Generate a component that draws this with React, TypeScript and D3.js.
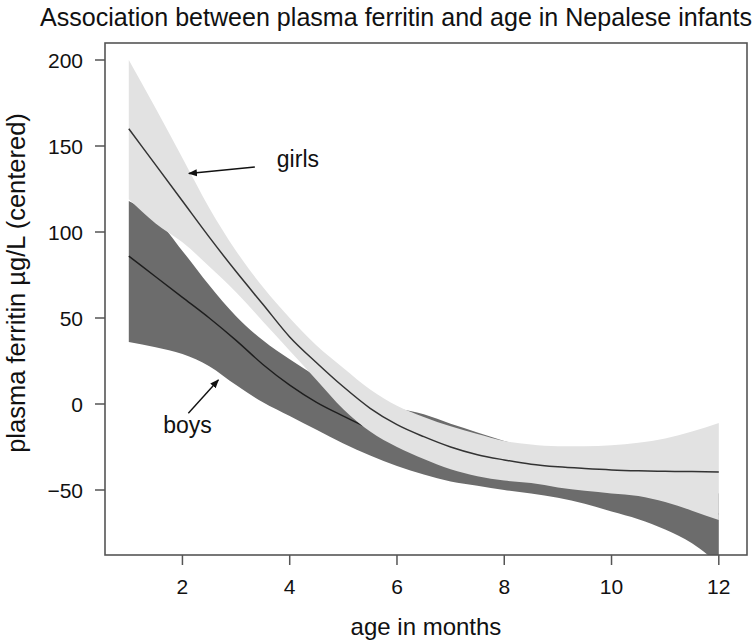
import React from "react";
import * as d3 from "d3";

// ---- data ----
const months = [1, 1.5, 2, 2.5, 3, 3.5, 4, 4.5, 5, 5.5, 6, 6.5, 7, 7.5, 8, 8.5, 9, 9.5, 10, 10.5, 11, 11.5, 12];

const girlsFit = [160, 139, 118, 97, 77, 58, 39, 24, 10, -2.5, -12, -19, -25, -29.5, -32.5, -35, -36.5, -37.5, -38.3, -38.8, -39.1, -39.3, -39.5];
const girlsUpper = [200, 172, 143, 114, 89, 68, 50, 34, 21, 8.5, -1, -7.5, -13, -17.5, -21.5, -23.5, -24.5, -24.5, -24, -22.5, -20, -16, -11];
const girlsLower = [119, 105, 94, 80, 65, 48, 31, 14, -3, -16, -25, -32, -38, -42, -44.5, -46, -48.5, -50.5, -52, -53.5, -57, -62, -67.5];

const boysFit = [86, 74, 62, 50, 37, 23, 11, 1, -7, -14.5, -21, -26, -30, -33.5, -36.5, -39.5, -42, -44.5, -47, -50.5, -54.5, -59, -64];
const boysUpper = [118, 108, 89, 69, 51, 37, 26, 16, 7, 1, -2.5, -6, -11.5, -16.5, -21.5, -26, -30, -34, -37, -40, -43, -47, -52];
const boysLower = [36, 33, 29, 22, 11, 1, -7, -15, -23, -30, -36, -41, -45, -47.5, -50, -52, -54.5, -58, -62.5, -67, -73, -81, -93];

const xTicks = [2, 4, 6, 8, 10, 12];
const yTicks = [-50, 0, 50, 100, 150, 200];

// annotations (data units)
const girlsLabel = { text: "girls", m: 3.76, v: 138, fromM: 3.35, fromV: 137.8, toM: 2.12, toV: 134 };
const boysLabel = { text: "boys", m: 1.64, v: -17, fromM: 2.11, fromV: -5.4, toM: 2.67, toV: 14 };

const W = 754;
const H = 641;
const box = { left: 105, right: 747, top: 43, bottom: 555 };

export default function App() {
  const x = d3.scaleLinear().domain([1, 12]).range([128.8, 718.8]);
  const y = d3.scaleLinear().domain([-50, 200]).range([490, 60]);

  const band = (lo: number[], hi: number[]) =>
    d3
      .area<number>()
      .x((d) => x(d))
      .y0((_, i) => y(lo[i]))
      .y1((_, i) => y(hi[i]))
      .curve(d3.curveMonotoneX)(months) || "";
  const line = (vals: number[]) =>
    d3
      .line<number>()
      .x((d) => x(d))
      .y((_, i) => y(vals[i]))
      .curve(d3.curveMonotoneX)(months) || "";

  const font = "'Liberation Sans', Arial, Helvetica, sans-serif";
  const axisColor = "#555";

  return (
    <svg
      width={W}
      height={H}
      style={{ position: "absolute", left: 0, top: 0, background: "#fff" }}
      fontFamily={font}
    >
      <defs>
        <clipPath id="plotClip">
          <rect x={box.left} y={box.top} width={box.right - box.left} height={box.bottom - box.top} />
        </clipPath>
        <marker id="arrow" viewBox="0 0 10 10" refX="9" refY="5" markerWidth="9" markerHeight="9" markerUnits="userSpaceOnUse" orient="auto">
          <path d="M0,1 L10,5 L0,9 z" fill="#111" />
        </marker>
      </defs>

      {/* title */}
      <text x={396} y={26} textAnchor="middle" fontSize={25} fill="#111" textLength={712} lengthAdjust="spacingAndGlyphs">
        Association between plasma ferritin and age in Nepalese infants
      </text>

      <g clipPath="url(#plotClip)">
        <path d={band(boysLower, boysUpper)} fill="#6c6c6c" />
        <path d={line(boysFit)} fill="none" stroke="#1e1e1e" strokeWidth={1.4} />
        <path d={band(girlsLower, girlsUpper)} fill="#e2e2e2" />
        <path d={line(girlsFit)} fill="none" stroke="#333" strokeWidth={1.5} />
      </g>

      {/* box */}
      <rect
        x={box.left}
        y={box.top}
        width={box.right - box.left}
        height={box.bottom - box.top}
        fill="none"
        stroke={axisColor}
        strokeWidth={1.6}
      />

      {/* x axis */}
      {xTicks.map((t) => (
        <g key={"x" + t}>
          <line x1={x(t)} x2={x(t)} y1={box.bottom} y2={box.bottom + 10} stroke={axisColor} strokeWidth={1.5} />
          <text x={x(t)} y={594} textAnchor="middle" fontSize={21} fill="#111">
            {t}
          </text>
        </g>
      ))}
      <text x={(box.left + box.right) / 2} y={635} textAnchor="middle" fontSize={24} fill="#111">
        age in months
      </text>

      {/* y axis */}
      {yTicks.map((t) => (
        <g key={"y" + t}>
          <line x1={box.left - 10} x2={box.left} y1={y(t)} y2={y(t)} stroke={axisColor} strokeWidth={1.5} />
          <text x={83} y={y(t)} dy="0.36em" textAnchor="end" fontSize={21} fill="#111">
            {t === -50 ? "\u221250" : t}
          </text>
        </g>
      ))}
      <text
        transform={`translate(25, ${(box.top + box.bottom) / 2 - 16}) rotate(-90)`}
        textAnchor="middle"
        fontSize={25.5}
        fill="#111"
      >
        plasma ferritin µg/L (centered)
      </text>

      {/* annotations */}
      {[girlsLabel, boysLabel].map((a) => (
        <g key={a.text}>
          <line
            x1={x(a.fromM)}
            y1={y(a.fromV)}
            x2={x(a.toM)}
            y2={y(a.toV)}
            stroke="#111"
            strokeWidth={1.4}
            markerEnd="url(#arrow)"
          />
          <text x={x(a.m)} y={y(a.v)} fontSize={23} fill="#111">
            {a.text}
          </text>
        </g>
      ))}
    </svg>
  );
}
